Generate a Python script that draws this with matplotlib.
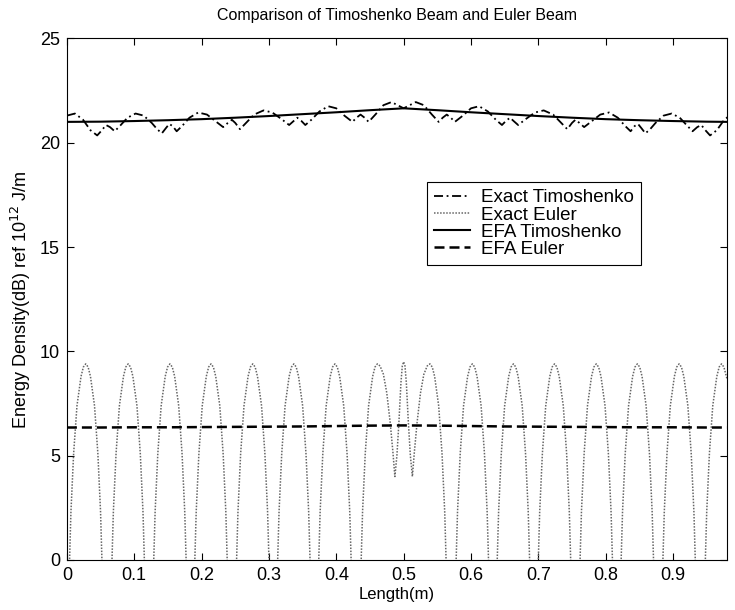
import matplotlib
matplotlib.use('Agg')
import matplotlib.pyplot as plt

plt.rcParams.update({
    'font.family': 'Liberation Sans', 'font.size': 13,
    'axes.linewidth': 0.8,
})

# Exact Euler (dB), read lobe by lobe
euler_x = [
    0.000, 0.003, 0.006, 0.010, 0.015, 0.021, 0.0245, 0.028, 0.0315, 0.035, 0.041, 0.046, 0.050, 0.053, 0.056,
    0.063, 0.066, 0.069, 0.073, 0.078, 0.084, 0.0875, 0.091, 0.0945, 0.098, 0.104, 0.109, 0.113, 0.116, 0.119,
    0.125, 0.128, 0.131, 0.135, 0.140, 0.146, 0.1495, 0.153, 0.1565, 0.160, 0.166, 0.171, 0.175, 0.178, 0.181,
    0.186, 0.189, 0.192, 0.196, 0.201, 0.207, 0.2105, 0.214, 0.2175, 0.221, 0.227, 0.232, 0.236, 0.239, 0.242,
    0.248, 0.251, 0.254, 0.258, 0.263, 0.269, 0.2725, 0.276, 0.2795, 0.283, 0.289, 0.294, 0.298, 0.301, 0.304,
    0.309, 0.312, 0.315, 0.319, 0.324, 0.330, 0.3335, 0.337, 0.3405, 0.344, 0.350, 0.355, 0.359, 0.362, 0.365,
    0.370, 0.373, 0.376, 0.380, 0.385, 0.391, 0.3945, 0.398, 0.4015, 0.405, 0.411, 0.416, 0.420, 0.423, 0.426,
    0.433, 0.436, 0.439, 0.443, 0.448, 0.454, 0.4575, 0.461,
    0.465, 0.470, 0.475, 0.480, 0.484, 0.487, 0.490, 0.493, 0.496, 0.498, 0.500,
    0.502, 0.504, 0.507, 0.510, 0.513, 0.516, 0.520, 0.525, 0.530, 0.535, 0.539,
    0.5425, 0.546, 0.552, 0.557, 0.561, 0.564, 0.567,
    0.574, 0.577, 0.580, 0.584, 0.589, 0.595, 0.5985, 0.602, 0.6055, 0.609, 0.615, 0.620, 0.624, 0.627, 0.630,
    0.635, 0.638, 0.641, 0.645, 0.650, 0.656, 0.6595, 0.663, 0.6665, 0.670, 0.676, 0.681, 0.685, 0.688, 0.691,
    0.696, 0.699, 0.702, 0.706, 0.711, 0.717, 0.7205, 0.724, 0.7275, 0.731, 0.737, 0.742, 0.746, 0.749, 0.752,
    0.758, 0.761, 0.764, 0.768, 0.773, 0.779, 0.7825, 0.786, 0.7895, 0.793, 0.799, 0.804, 0.808, 0.811, 0.814,
    0.819, 0.822, 0.825, 0.829, 0.834, 0.840, 0.8435, 0.847, 0.8505, 0.854, 0.860, 0.865, 0.869, 0.872, 0.875,
    0.881, 0.884, 0.887, 0.891, 0.896, 0.902, 0.9055, 0.909, 0.9125, 0.916, 0.922, 0.927, 0.931, 0.934, 0.937,
    0.944, 0.947, 0.950, 0.954, 0.959, 0.965, 0.9685, 0.972, 0.9755, 0.980,
]
euler_db = [
    -7, -1.1, 2.3, 5.1, 7.4, 8.8, 9.25, 9.4, 9.25, 8.8, 7.4, 5.1, 2.3, -1.1, -7,
    -7, -1.1, 2.3, 5.1, 7.4, 8.8, 9.25, 9.4, 9.25, 8.8, 7.4, 5.1, 2.3, -1.1, -7,
    -7, -1.1, 2.3, 5.1, 7.4, 8.8, 9.25, 9.4, 9.25, 8.8, 7.4, 5.1, 2.3, -1.1, -7,
    -7, -1.1, 2.3, 5.1, 7.4, 8.8, 9.25, 9.4, 9.25, 8.8, 7.4, 5.1, 2.3, -1.1, -7,
    -7, -1.1, 2.3, 5.1, 7.4, 8.8, 9.25, 9.4, 9.25, 8.8, 7.4, 5.1, 2.3, -1.1, -7,
    -7, -1.1, 2.3, 5.1, 7.4, 8.8, 9.25, 9.4, 9.25, 8.8, 7.4, 5.1, 2.3, -1.1, -7,
    -7, -1.1, 2.3, 5.1, 7.4, 8.8, 9.25, 9.4, 9.25, 8.8, 7.4, 5.1, 2.3, -1.1, -7,
    -7, -1.1, 2.3, 5.1, 7.4, 8.8, 9.25, 9.4,
    9.3, 8.9, 8.0, 6.6, 5.2, 4.0, 5.0, 6.6, 8.5, 9.3, 9.5,
    9.3, 8.5, 6.6, 5.0, 4.0, 5.2, 6.6, 8.0, 8.9, 9.3, 9.4,
    9.25, 8.8, 7.4, 5.1, 2.3, -1.1, -7,
    -7, -1.1, 2.3, 5.1, 7.4, 8.8, 9.25, 9.4, 9.25, 8.8, 7.4, 5.1, 2.3, -1.1, -7,
    -7, -1.1, 2.3, 5.1, 7.4, 8.8, 9.25, 9.4, 9.25, 8.8, 7.4, 5.1, 2.3, -1.1, -7,
    -7, -1.1, 2.3, 5.1, 7.4, 8.8, 9.25, 9.4, 9.25, 8.8, 7.4, 5.1, 2.3, -1.1, -7,
    -7, -1.1, 2.3, 5.1, 7.4, 8.8, 9.25, 9.4, 9.25, 8.8, 7.4, 5.1, 2.3, -1.1, -7,
    -7, -1.1, 2.3, 5.1, 7.4, 8.8, 9.25, 9.4, 9.25, 8.8, 7.4, 5.1, 2.3, -1.1, -7,
    -7, -1.1, 2.3, 5.1, 7.4, 8.8, 9.25, 9.4, 9.25, 8.8, 7.4, 5.1, 2.3, -1.1, -7,
    -7, -1.1, 2.3, 5.1, 7.4, 8.8, 9.25, 9.4, 9.25, 8.7,
]

# Exact Timoshenko (dB)
timo_x = [
    0.000, 0.012, 0.024, 0.035, 0.045, 0.052, 0.058, 0.064, 0.071, 0.080, 0.090, 0.102, 0.114,
    0.126, 0.134, 0.141, 0.147, 0.152, 0.157, 0.163, 0.171, 0.182, 0.195, 0.208, 0.220, 0.232,
    0.239, 0.245, 0.250, 0.257, 0.266, 0.278, 0.292, 0.305, 0.318, 0.330, 0.337, 0.342, 0.348,
    0.354, 0.363, 0.375, 0.388, 0.400, 0.412, 0.424, 0.430, 0.436, 0.442, 0.448, 0.458, 0.470,
    0.482, 0.491, 0.500, 0.509, 0.518, 0.530, 0.542, 0.552, 0.558, 0.564, 0.570, 0.576, 0.588,
    0.600, 0.612, 0.625, 0.637, 0.646, 0.652, 0.658, 0.663, 0.670, 0.682, 0.695, 0.708, 0.722,
    0.734, 0.743, 0.750, 0.755, 0.761, 0.768, 0.780, 0.792, 0.805, 0.818, 0.829, 0.837, 0.843,
    0.848, 0.853, 0.859, 0.866, 0.874, 0.886, 0.898, 0.910, 0.920, 0.929, 0.936, 0.942, 0.948,
    0.955, 0.965, 0.976, 0.988,
]
timo_db = [
    21.30, 21.40, 21.10, 20.60, 20.35, 20.60, 20.85, 20.75, 20.55, 20.85, 21.20, 21.40, 21.30,
    20.95, 20.65, 20.45, 20.70, 20.90, 20.80, 20.55, 20.80, 21.20, 21.45, 21.35, 21.05, 20.75,
    20.95, 21.10, 20.95, 20.65, 20.95, 21.35, 21.55, 21.45, 21.15, 20.85, 21.05, 21.20, 21.05,
    20.85, 21.10, 21.50, 21.75, 21.65, 21.30, 21.00, 21.20, 21.35, 21.20, 21.00, 21.35, 21.80,
    21.95, 21.80, 21.65, 21.80, 21.95, 21.80, 21.35, 21.00, 21.20, 21.35, 21.20, 21.00, 21.30,
    21.65, 21.75, 21.50, 21.10, 20.85, 21.05, 21.20, 21.05, 20.85, 21.15, 21.45, 21.55, 21.35,
    20.95, 20.65, 20.95, 21.10, 20.95, 20.75, 21.05, 21.35, 21.45, 21.20, 20.80, 20.55, 20.80,
    20.90, 20.70, 20.45, 20.65, 20.95, 21.30, 21.40, 21.20, 20.85, 20.55, 20.75, 20.85, 20.60,
    20.35, 20.60, 21.10, 21.40,
]

# EFA results (dB)
efa_x = [0.00, 0.05, 0.10, 0.15, 0.20, 0.25, 0.30, 0.35, 0.40, 0.45, 0.50,
         0.55, 0.60, 0.65, 0.70, 0.75, 0.80, 0.85, 0.90, 0.95, 0.98]
efa_timo_db = [21.00, 21.01, 21.04, 21.08, 21.13, 21.20, 21.28, 21.37, 21.46, 21.56, 21.65,
               21.56, 21.46, 21.37, 21.28, 21.20, 21.13, 21.08, 21.04, 21.01, 21.00]
efa_euler_db = [6.35, 6.35, 6.36, 6.36, 6.37, 6.38, 6.39, 6.40, 6.42, 6.44, 6.45,
                6.44, 6.42, 6.40, 6.39, 6.38, 6.37, 6.36, 6.36, 6.35, 6.35]

xticks = [0, 0.1, 0.2, 0.3, 0.4, 0.5, 0.6, 0.7, 0.8, 0.9]
xticklabels = ['0', '0.1', '0.2', '0.3', '0.4', '0.5', '0.6', '0.7', '0.8', '0.9']
yticks = [0, 5, 10, 15, 20, 25]

fig = plt.figure(figsize=(7.35, 6.10), dpi=100)
ax = fig.add_axes([0.091, 0.082, 0.898, 0.855])

ax.plot(timo_x, timo_db, color='black', lw=1.3, linestyle=(0, (5, 2, 1, 2)), label='Exact Timoshenko')
ax.plot(euler_x, euler_db, color='#666666', lw=1.1, linestyle=(0, (1, 1)), label='Exact Euler')
ax.plot(efa_x, efa_timo_db, color='black', lw=1.5, label='EFA Timoshenko')
ax.plot(efa_x, efa_euler_db, color='black', lw=1.8, linestyle=(0, (4, 2)), label='EFA Euler')

ax.set_xlim(0, 0.98)
ax.set_ylim(0, 25)
ax.set_xticks(xticks)
ax.set_xticklabels(xticklabels)
ax.set_yticks(yticks)
ax.tick_params(direction='in', top=True, right=True, length=5, width=0.8, pad=5)
ax.set_title('Comparison of Timoshenko Beam and Euler Beam', fontsize=11.5, pad=13)
ax.set_xlabel('Length(m)', fontsize=12, labelpad=2)
ax.set_ylabel('Energy Density(dB) ref 10$^{12}$ J/m', fontsize=13, labelpad=5)

leg = ax.legend(loc='upper left', bbox_to_anchor=(0.545, 0.725), borderaxespad=0,
                fancybox=False, framealpha=1, edgecolor='black', handlelength=1.9,
                handletextpad=0.6, labelspacing=0.0, borderpad=0.4, fontsize=13.5)
leg.get_frame().set_linewidth(0.8)

fig.savefig('out.png', dpi=100, facecolor='white')
